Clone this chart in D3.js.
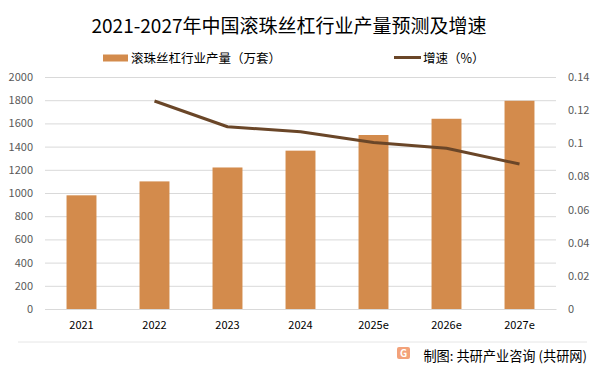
<!DOCTYPE html>
<html>
<head>
<meta charset="utf-8">
<script src="https://cdn.jsdelivr.net/npm/d3@7"></script>
<style>
  body { margin: 0; background: #fff; }
  text { font-family: "Noto Sans CJK SC", "Noto Sans", sans-serif; }
</style>
</head>
<body>
<svg width="600" height="375"></svg>
<script>
const years = ['2021', '2022', '2023', '2024', '2025e', '2026e', '2027e'];
const output = [980, 1100, 1220, 1365, 1500, 1640, 1795];
const growth = [null, 0.1255, 0.110, 0.107, 0.1005, 0.097, 0.0875];
const leftTicks = [0, 200, 400, 600, 800, 1000, 1200, 1400, 1600, 1800, 2000];
const rightTicks = [0, 0.02, 0.04, 0.06, 0.08, 0.1, 0.12, 0.14];

const svg = d3.select('svg');
const barColor = '#D38B4C';
const lineColor = '#6A4628';

const margin = {top: 77, left: 45, right: 44, bottom: 66};
const width = +svg.attr('width');
const height = +svg.attr('height');
const innerWidth = width - margin.left - margin.right;
const innerHeight = height - margin.top - margin.bottom;

const g = svg.append('g')
    .attr('transform', `translate(${margin.left},${margin.top})`);

const xScale = d3.scaleBand()
    .domain(years)
    .range([0, innerWidth])
    .paddingInner(0.59)
    .paddingOuter(0.295);

const yScale = d3.scaleLinear().domain([0, 2000]).range([innerHeight, 0]);
const y2Scale = d3.scaleLinear().domain([0, 0.14]).range([innerHeight, 0]);

// left axis + gridlines
const yAxisG = g.append('g')
    .call(d3.axisLeft(yScale).tickValues(leftTicks).tickSize(-innerWidth).tickPadding(12).tickFormat(d3.format('d')));
yAxisG.select('.domain').remove();
yAxisG.selectAll('line').attr('stroke', '#d9d9d9');
yAxisG.selectAll('text').attr('fill', '#595959').style('font-size', '11px');

// right axis
const y2AxisG = g.append('g')
    .attr('transform', `translate(${innerWidth},0)`)
    .call(d3.axisRight(y2Scale).tickValues(rightTicks).tickSize(0).tickPadding(12).tickFormat(d => d3.format('~g')(d)));
y2AxisG.select('.domain').remove();
y2AxisG.selectAll('text').attr('fill', '#595959').style('font-size', '11px');

// bars
g.selectAll('rect.bar').data(years)
  .enter().append('rect')
    .attr('class', 'bar')
    .attr('x', d => xScale(d))
    .attr('width', xScale.bandwidth())
    .attr('y', (d, i) => yScale(output[i]))
    .attr('height', (d, i) => innerHeight - yScale(output[i]))
    .attr('fill', barColor);

// x axis
const xAxisG = g.append('g')
    .attr('transform', `translate(0,${innerHeight})`)
    .call(d3.axisBottom(xScale).tickSize(0).tickPadding(12));
xAxisG.select('.domain').attr('stroke', '#d9d9d9');
xAxisG.selectAll('text').attr('fill', '#000').style('font-size', '11px');

// growth line
const lineData = years.map((d, i) => ({year: d, v: growth[i]})).filter(d => d.v != null);
const lineGenerator = d3.line()
    .x(d => xScale(d.year) + xScale.bandwidth() / 2)
    .y(d => y2Scale(d.v));
g.append('path')
    .attr('d', lineGenerator(lineData))
    .attr('fill', 'none')
    .attr('stroke', lineColor)
    .attr('stroke-width', 3)
    .attr('stroke-linejoin', 'round');

// title
svg.append('text')
    .attr('x', 289)
    .attr('y', 33)
    .attr('text-anchor', 'middle')
    .attr('fill', '#000')
    .style('font-size', '19px')
    .text('2021-2027年中国滚珠丝杠行业产量预测及增速');

// legend
const legend = svg.append('g');
legend.append('rect')
    .attr('x', 103).attr('y', 54.5).attr('width', 25).attr('height', 7)
    .attr('fill', barColor);
legend.append('text')
    .attr('x', 131).attr('y', 62.5)
    .attr('fill', '#000')
    .style('font-size', '12.5px')
    .text('滚珠丝杠行业产量（万套）');
legend.append('line')
    .attr('x1', 394).attr('x2', 421).attr('y1', 57.5).attr('y2', 57.5)
    .attr('stroke', lineColor).attr('stroke-width', 3);
legend.append('text')
    .attr('x', 423).attr('y', 62.5)
    .attr('fill', '#000')
    .style('font-size', '12.5px')
    .text('增速（%）');

// footer
svg.append('line')
    .attr('x1', 18).attr('x2', 587).attr('y1', 342).attr('y2', 342)
    .attr('stroke', '#e6e6e6');
const logo = svg.append('g').attr('transform', 'translate(397,347)');
logo.append('rect').attr('width', 13).attr('height', 12).attr('rx', 2).attr('fill', '#F3A27A');
logo.append('text').attr('x', 6.5).attr('y', 10).attr('text-anchor', 'middle')
    .attr('fill', '#fff').style('font-size', '10px').style('font-weight', 'bold').text('G');
svg.append('text')
    .attr('x', 587).attr('y', 361)
    .attr('text-anchor', 'end')
    .attr('fill', '#000')
    .style('font-size', '13.2px')
    .text('制图: 共研产业咨询 (共研网)');
</script>
</body>
</html>
